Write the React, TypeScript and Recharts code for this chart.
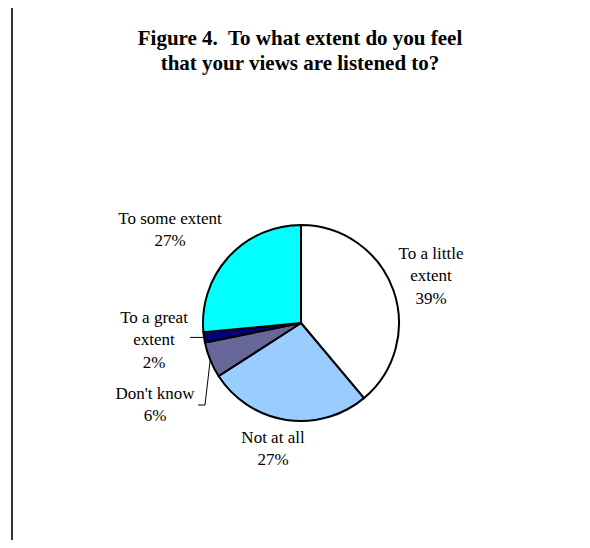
import React from "react";
import { PieChart, Pie, Cell } from "recharts";

const categories = ["To a little extent", "Not at all", "Don't know", "To a great extent", "To some extent"];
const values = [38.9, 27.0, 5.9, 1.7, 26.5];
const percentLabels = ["39%", "27%", "6%", "2%", "27%"];
const labelLines = [["To a little", "extent"], ["Not at all"], ["Don't know"], ["To a great", "extent"], ["To some extent"]];
const colors = ["#FFFFFF", "#99CCFF", "#666699", "#000080", "#00FFFF"];

const data = categories.map((name, i) => ({ name, value: values[i], pct: percentLabels[i], lines: labelLines[i] }));

// label layout relative to pie centre (block centre x, first-line centre y)
const labelLayout = [
  { dx: 130, dy: -70 },
  { dx: -28, dy: 114 },
  { dx: -146, dy: 70 },
  { dx: -147, dy: -6 },
  { dx: -131, dy: -105 },
];
const LINE_H = 22.5;
const FONT = "'Liberation Serif', 'Times New Roman', serif";

const RADIAN = Math.PI / 180;

const renderLabel = (props: any) => {
  const { cx, cy, midAngle, outerRadius, index, payload } = props;
  const lay = labelLayout[index];
  const lines: string[] = [...payload.lines, payload.pct];
  const x = cx + lay.dx;
  const y0 = cy + lay.dy;
  const sx = cx + outerRadius * Math.cos(-midAngle * RADIAN);
  const sy = cy + outerRadius * Math.sin(-midAngle * RADIAN);
  let leader: React.ReactNode = null;
  if (index === 3) {
    leader = <polyline points={`${sx},${sy} ${cx - 111},${sy}`} fill="none" stroke="#000" strokeWidth={1} />;
  } else if (index === 2) {
    leader = (
      <polyline
        points={`${sx},${sy} ${cx - 96},${cy + 82} ${cx - 103},${cy + 82}`}
        fill="none"
        stroke="#000"
        strokeWidth={1}
      />
    );
  }
  return (
    <g key={`lbl-${index}`}>
      {leader}
      {lines.map((t, i) => (
        <text
          key={i}
          x={x}
          y={y0 + i * LINE_H}
          textAnchor="middle"
          dominantBaseline="central"
          fontFamily={FONT}
          fontSize={17}
          fill="#000"
        >
          {t}
        </text>
      ))}
    </g>
  );
};

export default function App() {
  return (
    <div style={{ position: "relative", margin: -8, width: 590, height: 548, overflow: "hidden", background: "#fff" }}>
      <div
        style={{
          position: "absolute",
          left: 11,
          top: 6,
          width: 700,
          height: 700,
          borderTop: "2px solid #333",
          borderLeft: "2px solid #333",
          boxSizing: "border-box",
        }}
      />
      <div
        style={{
          position: "absolute",
          left: 0,
          width: 600,
          top: 26,
          textAlign: "center",
          fontFamily: FONT,
          fontWeight: "bold",
          fontSize: 21,
          lineHeight: "25px",
          color: "#000",
        }}
      >
        Figure 4.&nbsp; To what extent do you feel
        <br />
        that your views are listened to?
      </div>
      <div style={{ position: "absolute", left: 0, top: 0 }}>
        <PieChart width={590} height={548} margin={{ top: 0, right: 0, bottom: 0, left: 0 }}>
          <Pie
            data={data}
            dataKey="value"
            nameKey="name"
            cx={301}
            cy={323}
            outerRadius={98}
            startAngle={90}
            endAngle={-270}
            stroke="#000"
            strokeWidth={2}
            isAnimationActive={false}
            labelLine={false}
            label={renderLabel}
          >
            {data.map((d, i) => (
              <Cell key={d.name} fill={colors[i]} />
            ))}
          </Pie>
        </PieChart>
      </div>
    </div>
  );
}
